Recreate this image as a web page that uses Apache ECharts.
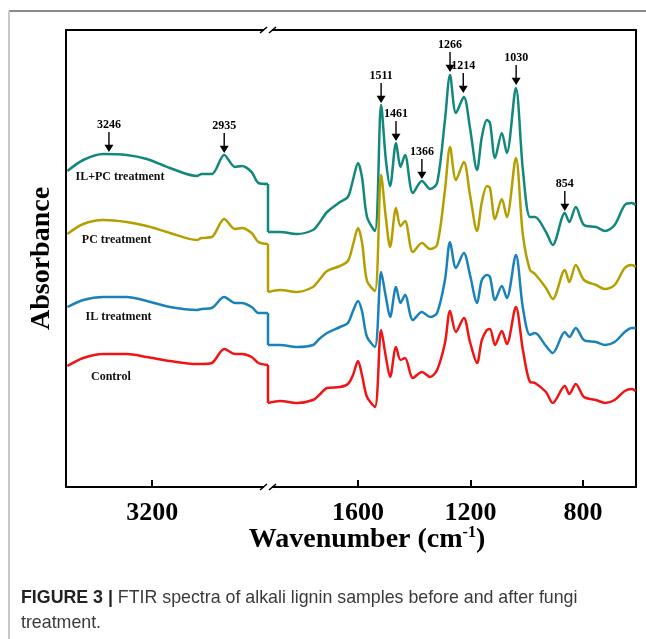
<!DOCTYPE html>
<html>
<head>
<meta charset="utf-8">
<script src="https://cdn.jsdelivr.net/npm/echarts@6/dist/echarts.min.js"></script>
<style>
  html, body { margin: 0; padding: 0; background: #fff; }
  #chart { width: 646px; height: 639px; }
</style>
</head>
<body>
<div id="chart"></div>
<script>
// wavenumbers (cm-1), left part of the broken axis
var wnHigh = [3500, 3444, 3373, 3290, 3219, 3137, 3042, 3025, 2989, 2945, 2907, 2883, 2848, 2824, 2790];
// wavenumbers (cm-1), right part of the broken axis
var wnLow = [1920, 1877, 1817, 1760, 1738, 1710, 1664, 1636, 1618, 1600, 1586, 1568, 1540, 1518, 1501,
  1486, 1465, 1449, 1433, 1405, 1373, 1344, 1319, 1291, 1273, 1252, 1224, 1202, 1177, 1160, 1142,
  1131, 1113, 1089, 1071, 1039, 1014, 989, 971, 932, 908, 865, 849, 826, 797, 754, 722, 688, 652, 627, 613];

// absorbance (arbitrary units, curves stacked with offsets)
var ilpcHigh = [316, 327, 333, 332, 328, 319, 311, 313, 313, 332, 320, 321, 315, 304, 303];
var pcHigh = [253, 263, 267, 265, 261, 254, 247, 249, 250, 268, 258, 259, 254, 245, 243];
var ilHigh = [180, 187, 190, 190, 186, 180, 177, 178, 179, 190, 184, 184, 180, 174, 174];
var ctrlHigh = [121, 129, 133, 133, 130, 126, 123, 123, 124, 138, 133, 133, 130, 124, 122];

var ilpcLow = [255, 255, 253, 257, 264, 275, 285, 290, 307, 324, 310, 270, 256, 382, 327, 301, 344, 320, 332, 294,
  306, 298, 304, 367, 412, 374, 390, 359, 317, 350, 367, 364, 329, 354, 334, 399, 317, 270, 270, 255,
  242, 274, 265, 280, 262, 260, 256, 262, 282, 284, 282];
var pcLow = [195, 197, 195, 200, 207, 216, 221, 226, 242, 259, 245, 206, 196, 312, 269, 240, 279, 261, 266, 235,
  244, 238, 242, 297, 340, 307, 325, 292, 256, 285, 301, 299, 268, 288, 270, 329, 252, 217, 213, 199,
  188, 217, 205, 222, 207, 202, 198, 202, 219, 222, 220];
var ilLow = [142, 142, 140, 142, 148, 154, 160, 164, 176, 186, 176, 150, 140, 215, 190, 170, 200, 184, 192, 167,
  175, 170, 174, 207, 245, 219, 234, 212, 184, 207, 212, 210, 187, 201, 189, 232, 179, 152, 154, 141,
  134, 155, 150, 159, 147, 145, 142, 145, 155, 159, 159];
var ctrlLow = [84, 86, 84, 87, 92, 99, 100, 103, 112, 126, 112, 90, 80, 157, 130, 110, 140, 127, 129, 109,
  115, 110, 117, 144, 176, 155, 169, 145, 124, 147, 157, 158, 142, 156, 143, 180, 137, 105, 104, 95,
  84, 101, 93, 103, 90, 87, 84, 87, 96, 98, 96];

var sampleNames = ['IL+PC treatment', 'PC treatment', 'IL treatment', 'Control'];
var sampleColors = ['#12887d', '#b49f00', '#1a82b9', '#f01414'];
// where the sample names sit (wavenumber, absorbance)
var nameWn = [3314, 3326, 3319, 3346];
var nameAbs = [310, 247, 170, 110];

// peak arrows on the IL+PC curve
var peakLabelsHigh = ['3246', '2935'];
var peakWnHigh = [3353, 2945];
var peakAbsHigh = [334, 333];
var peakLabelsLow = ['1511', '1461', '1366', '1266', '1214', '1030', '854'];
var peakWnLow = [1518, 1465, 1373, 1273, 1226, 1038, 865];
var peakAbsLow = [383, 345, 307, 414, 393, 401, 275];

var ticksHigh = [3200];
var ticksLow = [1600, 1200, 800];

var serif = '"Liberation Serif", "Times New Roman", serif';
var sans = '"Liberation Sans Narrow", "Liberation Sans", Arial, sans-serif';
var chart = echarts.init(document.getElementById('chart'));

function pairs(xs, ys) {
  return xs.map(function (x, i) { return [x, ys[i]]; });
}

var highSets = [ilpcHigh, pcHigh, ilHigh, ctrlHigh];
var lowSets = [ilpcLow, pcLow, ilLow, ctrlLow];

var arrowPath = 'path://M4.3,0 L5.7,0 L5.7,19 L9.5,19 L5,30 L0.5,19 L4.3,19 Z';

function arrowMarks(labels, wns, abs) {
  return {
    silent: true,
    animation: false,
    symbol: arrowPath,
    symbolSize: [9, 20],
    symbolOffset: [0, -11],
    itemStyle: { color: '#000' },
    label: {
      show: true, position: 'top', distance: 1, formatter: '{b}',
      color: '#000', fontFamily: serif, fontWeight: 'bold', fontSize: 12
    },
    data: labels.map(function (t, i) { return { name: t, coord: [wns[i], abs[i]] }; })
  };
}

var series = [];
sampleNames.forEach(function (name, i) {
  series.push({
    name: name, type: 'line', xAxisIndex: 0, yAxisIndex: 0,
    data: pairs(wnHigh, highSets[i]),
    showSymbol: false, smooth: 0.3, animation: false,
    lineStyle: { color: sampleColors[i], width: 2.5 },
    markPoint: {
      silent: true, animation: false, symbol: 'rect', symbolSize: 1,
      itemStyle: { color: 'rgba(0,0,0,0)' },
      label: {
        show: true, position: 'inside', formatter: '{b}',
        color: '#111', fontFamily: serif, fontWeight: 'bold', fontSize: 12
      },
      data: [{ name: name, coord: [nameWn[i], nameAbs[i]] }]
    }
  });
  // vertical jump at the axis break
  series.push({
    type: 'line', xAxisIndex: 2, yAxisIndex: 1, animation: false, showSymbol: false,
    data: [[wnLow[0], highSets[i][highSets[i].length - 1]], [wnLow[0], lowSets[i][0]]],
    lineStyle: { color: sampleColors[i], width: 2.5 }
  });
  series.push({
    name: name, type: 'line', xAxisIndex: 2, yAxisIndex: 1,
    data: pairs(wnLow, lowSets[i]),
    showSymbol: false, smooth: 0.3, animation: false,
    lineStyle: { color: sampleColors[i], width: 2.5 },
    markPoint: i === 0 ? arrowMarks(peakLabelsLow, peakWnLow, peakAbsLow) : undefined
  });
});
// arrows for the left part sit on an empty helper series
series.push({
  type: 'line', xAxisIndex: 0, yAxisIndex: 0, data: [], animation: false,
  markPoint: arrowMarks(peakLabelsHigh, peakWnHigh, peakAbsHigh)
});

var frameLine = { show: true, onZero: false, lineStyle: { color: '#000', width: 2 } };
var tickLabel = {
  fontFamily: serif, fontWeight: 'bold', fontSize: 26, color: '#000', margin: 13,
  formatter: function (v) { return String(v); }
};

var gridTop = 30, gridBottom = 152, breakX = 268;

var option = {
  animation: false,
  grid: [
    { left: 66, width: breakX - 66, top: gridTop, bottom: gridBottom },
    { left: breakX, right: 10, top: gridTop, bottom: gridBottom }
  ],
  xAxis: [
    {
      gridIndex: 0, type: 'value', min: 2790, max: 3505, inverse: true, position: 'bottom',
      axisLine: frameLine, splitLine: { show: false },
      axisTick: { show: true, inside: true, length: 7, customValues: ticksHigh, lineStyle: { color: '#000', width: 2 } },
      axisLabel: Object.assign({ customValues: ticksHigh }, tickLabel)
    },
    {
      gridIndex: 0, type: 'value', min: 2790, max: 3505, inverse: true, position: 'top',
      axisLine: frameLine, splitLine: { show: false }, axisTick: { show: false }, axisLabel: { show: false }
    },
    {
      gridIndex: 1, type: 'value', min: 612, max: 1920, inverse: true, position: 'bottom',
      axisLine: frameLine, splitLine: { show: false },
      axisTick: { show: true, inside: true, length: 7, customValues: ticksLow, lineStyle: { color: '#000', width: 2 } },
      axisLabel: Object.assign({ customValues: ticksLow }, tickLabel)
    },
    {
      gridIndex: 1, type: 'value', min: 612, max: 1920, inverse: true, position: 'top',
      axisLine: frameLine, splitLine: { show: false }, axisTick: { show: false }, axisLabel: { show: false }
    }
  ],
  yAxis: [
    {
      gridIndex: 0, type: 'value', min: 0, max: 457, position: 'left',
      axisLine: frameLine, axisTick: { show: false }, axisLabel: { show: false }, splitLine: { show: false },
      name: 'Absorbance', nameLocation: 'middle', nameGap: 10, nameRotate: 90,
      nameTextStyle: { fontFamily: serif, fontWeight: 'bold', fontSize: 28, color: '#000' }
    },
    {
      gridIndex: 1, type: 'value', min: 0, max: 457, position: 'right',
      axisLine: frameLine, axisTick: { show: false }, axisLabel: { show: false }, splitLine: { show: false }
    }
  ],
  title: {
    left: 21, top: 586, padding: 0,
    text: '{b|FIGURE 3 |} FTIR spectra of alkali lignin samples before and after fungi\ntreatment.',
    textStyle: {
      fontFamily: sans, fontWeight: 'normal', fontSize: 17.8, color: '#3a3a3a', lineHeight: 25,
      rich: { b: { fontWeight: 'bold', fontSize: 17.8, color: '#222', fontFamily: sans } }
    }
  },
  graphic: [
    // page frame lines
    { type: 'line', shape: { x1: 9, y1: 11, x2: 646, y2: 11 }, style: { stroke: '#8a8a8a', lineWidth: 2 } },
    { type: 'line', shape: { x1: 9, y1: 11, x2: 9, y2: 639 }, style: { stroke: '#c8c8c8', lineWidth: 2 } },
    // x axis title
    {
      type: 'text', x: 367, y: 540,
      style: {
        text: 'Wavenumber (cm{sup|-1})', align: 'center', verticalAlign: 'middle',
        font: 'bold 28px ' + serif, fill: '#000',
        rich: { sup: { font: 'bold 16px ' + serif, fill: '#000', verticalAlign: 'top', padding: [0, 0, 14, 0] } }
      }
    }
  ],
  series: series
};

// break marks on top and bottom frame lines
[gridTop, 639 - gridBottom].forEach(function (y) {
  option.graphic.push({ type: 'rect', z: 100, shape: { x: breakX - 4, y: y - 3, width: 8, height: 6 }, style: { fill: '#fff' } });
  option.graphic.push({ type: 'line', z: 101, shape: { x1: breakX - 8, y1: y + 3, x2: breakX - 1, y2: y - 3 }, style: { stroke: '#000', lineWidth: 1.6 } });
  option.graphic.push({ type: 'line', z: 101, shape: { x1: breakX + 1, y1: y + 3, x2: breakX + 8, y2: y - 3 }, style: { stroke: '#000', lineWidth: 1.6 } });
});

chart.setOption(option);
</script>
</body>
</html>
